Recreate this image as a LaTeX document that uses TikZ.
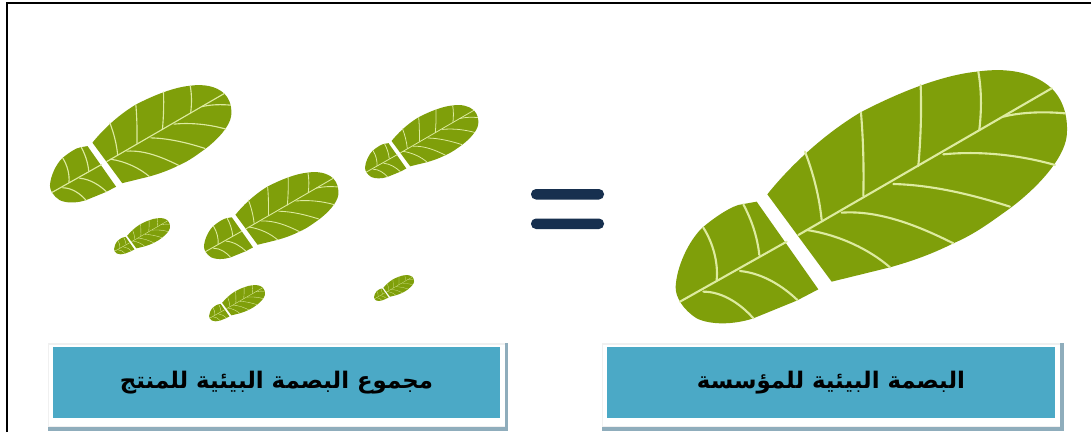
\documentclass[tikz,border=0pt]{standalone}
\usepackage{fontspec}
\newfontfamily\arabicfont[Script=Arabic]{DejaVu Sans}
\TeXXeTstate=1
\definecolor{leafgreen}{HTML}{7F9F0A}
\definecolor{veincolor}{HTML}{DDEBA0}
\definecolor{boxblue}{HTML}{4BA9C6}
\definecolor{boxshadow}{HTML}{8FADBC}
\definecolor{eqnavy}{HTML}{17304F}
\tikzset{
  labelbox/.style={fill=boxblue,text=black,minimum width=4.47cm,minimum height=0.71cm,inner sep=0pt,font=\arabicfont\bfseries\fontsize{6.5}{8}\selectfont},
  eqbar/.style={fill=eqnavy,rounded corners=0.05cm},
  pics/footprint/.style={code={
    \fill[leafgreen] (322,403) .. controls (380,330) and (480,230) .. (600,158) .. controls (720,95) and (850,45) .. (950,35) .. controls (1040,22) and (1120,35) .. (1175,85) .. controls (1215,125) and (1225,180) .. (1220,230) .. controls (1210,300) and (1130,385) .. (1050,445) .. controls (1000,480) and (950,520) .. (880,550) .. controls (810,585) and (750,605) .. (690,622) -- (515,665) -- cycle;
    \fill[leafgreen] (290,425) -- (475,688) -- (410,722) -- (280,775) .. controls (220,795) and (150,795) .. (110,775) .. controls (70,750) and (45,710) .. (47,680) .. controls (50,620) and (85,545) .. (125,505) .. controls (165,470) and (220,435) .. (245,433) -- cycle;
    \begin{scope}[draw=veincolor,line width=#1,line cap=round]
      % middle lines
      \draw (415,525) -- (1175,85);
      \draw (60,725) -- (380,545);
      % upper side, front
      \draw (435,275) .. controls (460,340) and (478,410) .. (485,480);
      \draw (603,158) .. controls (610,240) and (612,330) .. (610,408);
      \draw (782,75) .. controls (785,160) and (782,240) .. (775,318);
      \draw (955,35) .. controls (965,90) and (965,150) .. (958,210);
      % lower side, front
      \draw (440,510) .. controls (540,525) and (630,570) .. (690,622);
      \draw (545,458) .. controls (660,450) and (780,500) .. (880,550);
      \draw (700,372) .. controls (820,375) and (940,405) .. (1050,440);
      \draw (850,283) .. controls (960,272) and (1080,285) .. (1185,315);
      \draw (1030,170) .. controls (1090,155) and (1160,155) .. (1215,160);
      % heel
      \draw (130,503) .. controls (160,550) and (175,610) .. (170,660);
      \draw (250,433) .. controls (275,480) and (292,530) .. (298,585);
      \draw (130,695) .. controls (190,695) and (245,735) .. (280,775);
      \draw (240,633) .. controls (310,640) and (370,680) .. (412,720);
    \end{scope}
  }}
}
\begin{document}
\begin{tikzpicture}[x=0.01cm,y=-0.01cm]
\useasboundingbox (0,0) rectangle (1091,432);
\fill[white] (0,0) rectangle (1091,432);
% frame
\draw[black,line width=0.025cm] (7,432) -- (7,3) -- (1091,3);
% feet on the left, biggest first
\pic[scale=0.1545] at (42.7,80.4) {footprint=0.32pt};
\pic[scale=0.0965] at (360.5,102.1) {footprint=0.22pt};
\pic[scale=0.1145] at (198.6,168.6) {footprint=0.25pt};
\pic[scale=0.0477] at (111.8,216.6) {footprint=0.1pt};
\pic[scale=0.0477] at (206.8,283.6) {footprint=0.1pt};
\pic[scale=0.0341] at (372.4,274) {footprint=0.06pt};
% foot on the right
\pic[scale=0.3333] at (660,60) {footprint=0.6pt};
% equals sign
\fill[eqbar] (531,189) rectangle (604,199.5);
\fill[eqbar] (531,218.5) rectangle (604,229);
% boxes
\fill[black!6] (48,343) rectangle (505,428);
\fill[boxshadow] (48,427) rectangle (508,431);
\fill[boxshadow] (505,343) rectangle (508,431);
\fill[white] (49,345) rectangle (505,426);
\node[labelbox] (productbox) at (276.5,382.5) {\beginR مجموع البصمة البيئية للمنتج\endR};
\fill[black!6] (602,343) rectangle (1060,428);
\fill[boxshadow] (602,427) rectangle (1064,431);
\fill[boxshadow] (1060,343) rectangle (1064,431);
\fill[white] (603,345) rectangle (1060,426);
\node[labelbox] (companybox) at (831,382.5) {\beginR البصمة البيئية للمؤسسة\endR};
\end{tikzpicture}
\end{document}
